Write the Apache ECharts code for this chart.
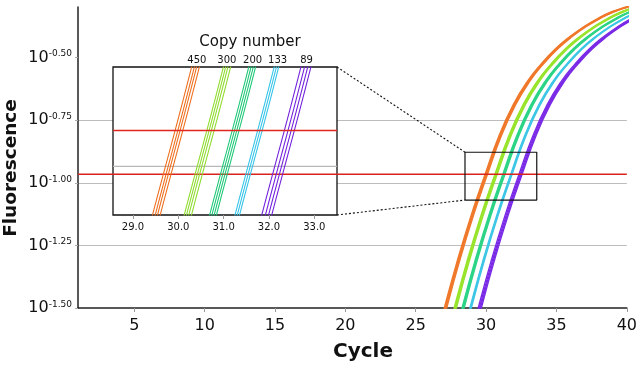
<!DOCTYPE html>
<html><head><meta charset="utf-8">
<script src="https://cdn.jsdelivr.net/npm/echarts@6/dist/echarts.min.js"></script>
<style>html,body{margin:0;padding:0;background:#fff}#c{width:640px;height:368px}</style>
</head><body><div id="c"></div>
<script>
// log10(fluorescence) levels reached by every well (shared curve shape)
const fluorLevels = [-1.736,-1.521,-1.316,-1.131,-0.966,-0.81,-0.688,-0.595,-0.524,-0.465,-0.417,-0.377,-0.344,-0.317,-0.298,-0.281];
// cycle at which each replicate well reaches those levels
const cyc450a = [25.93,26.93,27.93,28.93,29.93,30.93,31.93,32.93,33.93,34.93,35.93,36.93,37.93,38.93,39.93,40.93];
const cyc450b = [25.99,26.99,27.99,28.99,29.99,30.99,31.99,32.99,33.99,34.99,35.99,36.99,37.99,38.99,39.99,40.99];
const cyc450c = [26.04,27.04,28.04,29.04,30.04,31.04,32.04,33.04,34.04,35.04,36.04,37.04,38.04,39.04,40.04,41.04];
const cyc450d = [26.10,27.10,28.10,29.10,30.10,31.10,32.10,33.10,34.10,35.10,36.10,37.10,38.10,39.10,40.10,41.10];
const cyc300a = [26.63,27.63,28.63,29.63,30.63,31.63,32.63,33.63,34.63,35.63,36.63,37.63,38.63,39.63,40.63,41.63];
const cyc300b = [26.68,27.68,28.68,29.68,30.68,31.68,32.68,33.68,34.68,35.68,36.68,37.68,38.68,39.68,40.68,41.68];
const cyc300c = [26.73,27.73,28.73,29.73,30.73,31.73,32.73,33.73,34.73,35.73,36.73,37.73,38.73,39.73,40.73,41.73];
const cyc300d = [26.79,27.79,28.79,29.79,30.79,31.79,32.79,33.79,34.79,35.79,36.79,37.79,38.79,39.79,40.79,41.79];
const cyc200a = [27.19,28.19,29.19,30.19,31.19,32.19,33.19,34.19,35.19,36.19,37.19,38.19,39.19,40.19,41.19,42.19];
const cyc200b = [27.24,28.24,29.24,30.24,31.24,32.24,33.24,34.24,35.24,36.24,37.24,38.24,39.24,40.24,41.24,42.24];
const cyc200c = [27.29,28.29,29.29,30.29,31.29,32.29,33.29,34.29,35.29,36.29,37.29,38.29,39.29,40.29,41.29,42.29];
const cyc200d = [27.34,28.34,29.34,30.34,31.34,32.34,33.34,34.34,35.34,36.34,37.34,38.34,39.34,40.34,41.34,42.34];
const cyc133a = [27.75,28.75,29.75,30.75,31.75,32.75,33.75,34.75,35.75,36.75,37.75,38.75,39.75,40.75,41.75,42.75];
const cyc133b = [27.80,28.80,29.80,30.80,31.80,32.80,33.80,34.80,35.80,36.80,37.80,38.80,39.80,40.80,41.80,42.80];
const cyc133c = [27.85,28.85,29.85,30.85,31.85,32.85,33.85,34.85,35.85,36.85,37.85,38.85,39.85,40.85,41.85,42.85];
const cyc89a  = [28.34,29.34,30.34,31.34,32.34,33.34,34.34,35.34,36.34,37.34,38.34,39.34,40.34,41.34,42.34,43.34];
const cyc89b  = [28.42,29.42,30.42,31.42,32.42,33.42,34.42,35.42,36.42,37.42,38.42,39.42,40.42,41.42,42.42,43.42];
const cyc89c  = [28.49,29.49,30.49,31.49,32.49,33.49,34.49,35.49,36.49,37.49,38.49,39.49,40.49,41.49,42.49,43.49];
const cyc89d  = [28.56,29.56,30.56,31.56,32.56,33.56,34.56,35.56,36.56,37.56,38.56,39.56,40.56,41.56,42.56,43.56];

const copyNumbers = ['450','300','200','133','89'];
const copyLabelCycles = [30.41,31.07,31.64,32.19,32.83];
const threshold = -0.966;
const xRange = [1, 40];
const yRange = [-1.5, -0.298];
const xTicks = [5,10,15,20,25,30,35,40];
const yTicks = [-1.5,-1.25,-1,-0.75,-0.5];
const insetXRange = [28.56, 33.5];
const insetYRange = [-1.046, -0.906];
const insetTicks = [29,30,31,32,33];
const insetGridLevel = -1.0;
const zoomBoxX = [28.5, 33.6];
const zoomBoxY = [-1.069, -0.878];

const groups = [
  {color:'#7a2ae6', inset:'#7424dc', reps:[cyc89a,cyc89b,cyc89c,cyc89d]},
  {color:'#3ec6e6', inset:'#36c4e8', reps:[cyc133a,cyc133b,cyc133c]},
  {color:'#2cd486', inset:'#20c878', reps:[cyc200a,cyc200b,cyc200c,cyc200d]},
  {color:'#98e42c', inset:'#90dc30', reps:[cyc300a,cyc300b,cyc300c,cyc300d]},
  {color:'#f0782a', inset:'#ee7020', reps:[cyc450a,cyc450b,cyc450c,cyc450d]}
];
const FONT = 'DejaVu Sans';
const zip = (xs, ys) => xs.map((x, i) => [x, ys[i]]);

const series = [];
series.push({type:'line', xAxisIndex:0, yAxisIndex:0, data:[[xRange[0],threshold],[xRange[1],threshold]],
  symbol:'none', silent:true, z:3, lineStyle:{color:'#d8241c', width:1.6}});
groups.forEach(g => g.reps.forEach(r => series.push({
  type:'line', xAxisIndex:0, yAxisIndex:0, data: zip(r, fluorLevels), smooth:true,
  symbol:'none', silent:true, z:2, lineStyle:{color:g.color, width:1.4}
})));
series.push({type:'line', xAxisIndex:0, yAxisIndex:0,
  data:[[zoomBoxX[0],zoomBoxY[0]],[zoomBoxX[1],zoomBoxY[0]],[zoomBoxX[1],zoomBoxY[1]],[zoomBoxX[0],zoomBoxY[1]],[zoomBoxX[0],zoomBoxY[0]]],
  symbol:'none', silent:true, z:4, lineStyle:{color:'#111', width:1.2}});
series.push({type:'line', xAxisIndex:1, yAxisIndex:1, data:[[insetXRange[0],insetGridLevel],[insetXRange[1],insetGridLevel]],
  symbol:'none', silent:true, z:5, lineStyle:{color:'#b8b8b8', width:1.2}});
groups.forEach(g => g.reps.forEach(r => series.push({
  type:'line', xAxisIndex:1, yAxisIndex:1, data: zip(r, fluorLevels), smooth:true,
  symbol:'none', silent:true, z:6, lineStyle:{color:g.inset, width:1.1}
})));
const insetSeriesIdx = series.length;
series.push({type:'line', xAxisIndex:1, yAxisIndex:1, data:[[insetXRange[0],threshold],[insetXRange[1],threshold]],
  symbol:'none', silent:true, z:7, lineStyle:{color:'#e0261c', width:1.6}});

const chart = echarts.init(document.getElementById('c'), null, {renderer:'canvas'});
chart.setOption({
  animation:false,
  backgroundColor:'#fff',
  textStyle:{fontFamily:FONT},
  grid:[
    {left:78, top:7, right:11, bottom:60},
    {left:113, top:67, width:224, height:148, show:true, backgroundColor:'#fff', borderColor:'#111', borderWidth:1.3, z:3}
  ],
  xAxis:[
    {type:'value', gridIndex:0, min:xRange[0], max:xRange[1],
     axisLine:{lineStyle:{color:'#222', width:1.5}},
     axisTick:{show:true, customValues:xTicks, length:4, lineStyle:{color:'#999'}},
     axisLabel:{customValues:xTicks, fontSize:16, color:'#111', margin:10, fontFamily:FONT},
     splitLine:{show:false}},
    {type:'value', gridIndex:1, min:insetXRange[0], max:insetXRange[1], z:4,
     axisLine:{show:false},
     axisTick:{show:true, customValues:insetTicks, length:4, lineStyle:{color:'#999'}},
     axisLabel:{customValues:insetTicks, fontSize:10, color:'#111', margin:7, fontFamily:FONT, formatter:v=>v.toFixed(1)},
     splitLine:{show:false}},
    {type:'value', gridIndex:1, position:'top', min:insetXRange[0], max:insetXRange[1], z:4,
     axisLine:{show:false}, axisTick:{show:false}, splitLine:{show:false},
     axisLabel:{customValues:copyLabelCycles, fontSize:10, color:'#111', margin:2, fontFamily:FONT,
       formatter:v=>{const i=copyLabelCycles.findIndex(c=>Math.abs(c-v)<1e-6); return i>=0?copyNumbers[i]:'';}}}
  ],
  yAxis:[
    {type:'value', gridIndex:0, min:yRange[0], max:yRange[1], interval:0.25,
     axisLine:{show:true, lineStyle:{color:'#222', width:1.5}},
     axisTick:{show:true, customValues:yTicks, length:3, lineStyle:{color:'#aaa'}},
     axisLabel:{customValues:yTicks, margin:6, color:'#111', fontFamily:FONT,
       formatter:v=>'{b|10}{s|'+v.toFixed(2)+'}',
       rich:{b:{fontSize:16, fontFamily:FONT, color:'#111'}, s:{fontSize:9, fontFamily:FONT, color:'#111', verticalAlign:'top'}}},
     splitLine:{show:true, showMinLine:false, showMaxLine:false, lineStyle:{color:'#bdbdbd', width:1.2}}},
    {type:'value', gridIndex:1, min:insetYRange[0], max:insetYRange[1], show:false}
  ],
  series
});

const s0 = {seriesIndex: insetSeriesIdx};
const m0 = {seriesIndex: 0};
const insTR = chart.convertToPixel(s0, [insetXRange[1], insetYRange[1]]);
const insBR = chart.convertToPixel(s0, [insetXRange[1], insetYRange[0]]);
const boxTL = chart.convertToPixel(m0, [zoomBoxX[0], zoomBoxY[1]]);
const boxBL = chart.convertToPixel(m0, [zoomBoxX[0], zoomBoxY[0]]);
const insTop = chart.convertToPixel(s0, [insetXRange[0], insetYRange[1]]);
chart.setOption({graphic:[
  {type:'line', z:10, shape:{x1:insTR[0], y1:insTR[1], x2:boxTL[0], y2:boxTL[1]}, style:{stroke:'#111', lineWidth:1.1, lineDash:[2,2]}},
  {type:'line', z:10, shape:{x1:insBR[0], y1:insBR[1], x2:boxBL[0], y2:boxBL[1]}, style:{stroke:'#111', lineWidth:1.1, lineDash:[2,2]}},
  {type:'text', z:10, x:250, y:insTop[1]-25, style:{text:'Copy number', font:'15px "DejaVu Sans"', fill:'#111', align:'center', verticalAlign:'middle'}},
  {type:'text', z:10, x:363, y:352, style:{text:'Cycle', font:'bold 20px "DejaVu Sans"', fill:'#111', align:'center', verticalAlign:'middle'}},
  {type:'text', z:10, x:11, y:168, rotation:Math.PI/2, style:{text:'Fluorescence', font:'bold 18.5px "DejaVu Sans"', fill:'#111', align:'center', verticalAlign:'middle'}}
]});
</script></body></html>
